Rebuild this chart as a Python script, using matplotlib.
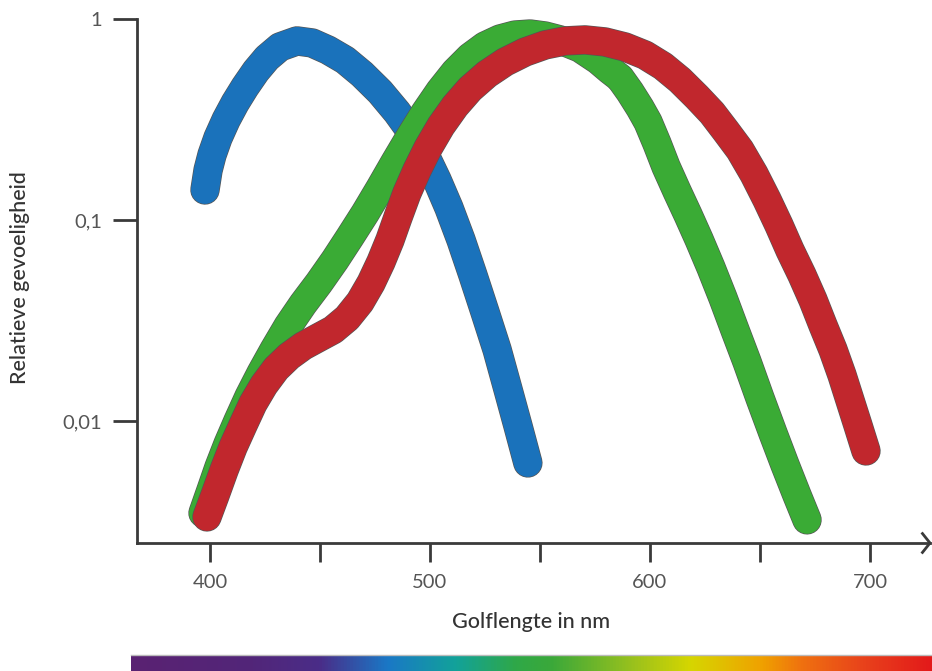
import numpy as np
import matplotlib
matplotlib.use("Agg")
import matplotlib.pyplot as plt
import matplotlib.patheffects as pe
from matplotlib.colors import LinearSegmentedColormap
from matplotlib.ticker import FixedLocator, NullLocator, NullFormatter

plt.rcParams['font.family'] = ['Lato', 'DejaVu Sans']

# ---- data ----
blue_nm = [397.7, 399.1, 400.9, 403.6, 407.3, 411.4, 415.9, 420.9, 425.9, 431.8, 439.5, 446.4, 453.6,
           461.4, 469.1, 477.3, 485.0, 491.8, 497.7, 503.2, 508.6, 514.1, 519.5, 525.0, 530.5, 535.5,
           540.0, 544.5]
blue_val = [0.141, 0.177, 0.211, 0.256, 0.315, 0.382, 0.459, 0.551, 0.640, 0.726, 0.778, 0.760, 0.701,
            0.625, 0.532, 0.434, 0.344, 0.271, 0.211, 0.158, 0.115, 0.0795, 0.0532, 0.0348, 0.0226, 0.0143,
            0.00944, 0.00618]

green_nm = [396.8, 400.5, 404.1, 408.2, 412.7, 417.7, 423.2, 429.1, 435.5, 442.3, 449.5, 456.8, 463.6,
            470.5, 477.3, 484.1, 490.9, 497.7, 504.5, 511.4, 518.2, 525.0, 531.8, 538.6, 545.5, 552.3,
            559.1, 568.2, 576.4, 581.8, 586.4, 590.9, 595.5, 599.1, 603.2, 607.3, 612.3, 617.3, 622.3,
            627.7, 633.2, 638.6, 644.1, 650.0, 655.9, 661.4, 666.8, 671.4]
green_val = [0.00348, 0.00454, 0.0059, 0.00769, 0.0100, 0.0132, 0.0173, 0.0226, 0.0297, 0.0382, 0.0486,
             0.0632, 0.0822, 0.108, 0.144, 0.194, 0.259, 0.341, 0.438, 0.545, 0.647, 0.734, 0.795, 0.832,
             0.842, 0.823, 0.787, 0.717, 0.625, 0.557, 0.509, 0.434, 0.361, 0.307, 0.240, 0.184, 0.139,
             0.106, 0.0800, 0.0580, 0.0409, 0.0284, 0.0197, 0.0130, 0.0087, 0.00604, 0.00428, 0.00322]

red_nm = [398.6, 402.3, 406.4, 410.5, 415.0, 419.5, 424.5, 430.0, 435.9, 442.3, 449.1, 455.9, 462.3,
          468.2, 473.2, 477.7, 481.8, 485.5, 489.5, 494.1, 499.1, 505.0, 511.4, 518.2, 525.9, 534.1,
          543.2, 552.3, 561.4, 570.5, 579.5, 588.6, 597.7, 605.9, 613.6, 621.4, 628.2, 634.5, 640.9,
          647.3, 653.2, 658.6, 663.6, 669.1, 674.1, 678.6, 683.2, 687.3, 690.9, 694.5, 698.2]
red_val = [0.00333, 0.00428, 0.0057, 0.00743, 0.00955, 0.0122, 0.0151, 0.0182, 0.0210, 0.0236, 0.0259,
           0.0284, 0.0325, 0.0391, 0.0486, 0.0618, 0.0795, 0.1035, 0.136, 0.177, 0.228, 0.294, 0.369,
           0.449, 0.532, 0.611, 0.685, 0.743, 0.778, 0.787, 0.769, 0.726, 0.662, 0.583, 0.497, 0.409,
           0.341, 0.277, 0.223, 0.169, 0.126, 0.0944, 0.0709, 0.0532, 0.0400, 0.0300, 0.0226, 0.0169,
           0.0127, 0.00955, 0.00709]

x_major = [400, 500, 600, 700]
x_major_labels = ["400", "500", "600", "700"]
x_minor = [450, 550, 650]
y_ticks = [1, 0.1, 0.01]
y_tick_labels = ["1", "0,1", "0,01"]

spectrum_colors = ["#5a2272", "#522679", "#4a2d88", "#1a78c6", "#12a29a", "#2fa848", "#3aa83a",
                   "#9cc21c", "#d6d600", "#f0a000", "#ef7010", "#e8401c", "#e31a1a"]
spectrum_pos = [0.0, 0.15, 0.235, 0.32, 0.405, 0.48, 0.525, 0.63, 0.70, 0.79, 0.84, 0.92, 1.0]

series = [
    (blue_nm, blue_val, "#1a72bb"),
    (green_nm, green_val, "#3aab35"),
    (red_nm, red_val, "#c1272d"),
]

W, H = 932, 671
fig = plt.figure(figsize=(W / 100, H / 100), dpi=100)

ax_l, ax_r, ax_t, ax_b = 137, 930, 19, 543
ax = fig.add_axes([ax_l / W, 1 - ax_b / H, (ax_r - ax_l) / W, (ax_b - ax_t) / H])

axis_col = "#3a3a3a"
lw_px = 28
for xs, ys, col in series:
    ax.plot(xs, ys, color=col, lw=lw_px * 0.72, solid_capstyle='round', solid_joinstyle='round',
            path_effects=[pe.Stroke(linewidth=lw_px * 0.72 + 1.0, foreground="#555555",
                                    capstyle='round', joinstyle='round'), pe.Normal()],
            zorder=3)

ax.set_yscale('log')
ax.set_xlim(366.8, 727.3)
ax.set_ylim(0.00247, 1.0)

for s in ['top', 'right']:
    ax.spines[s].set_visible(False)
for s in ['left', 'bottom']:
    ax.spines[s].set_color(axis_col)
    ax.spines[s].set_linewidth(2.0)

ax.xaxis.set_major_locator(FixedLocator(x_major))
ax.set_xticklabels(x_major_labels)
ax.xaxis.set_minor_locator(FixedLocator(x_minor))
ax.xaxis.set_minor_formatter(NullFormatter())
ax.yaxis.set_major_locator(FixedLocator(y_ticks))
ax.set_yticklabels(y_tick_labels)
ax.yaxis.set_minor_locator(NullLocator())

ax.tick_params(axis='x', which='both', direction='out', length=14, width=2.0, color=axis_col,
               labelsize=14.5, labelcolor="#555555", pad=8)
ax.tick_params(axis='y', which='both', direction='out', length=17, width=2.0, color=axis_col,
               labelsize=14.5, labelcolor="#555555", pad=8)

# arrow head at end of x axis
ax.plot([0.9905, 1.0, 0.9905], [0.018, 0.0, -0.018], transform=ax.transAxes, color=axis_col,
        lw=2.0, clip_on=False, solid_joinstyle='miter', zorder=4)

fig.text(531 / W, 1 - 622 / H, "Golflengte in nm", ha='center', va='center', fontsize=15.5,
         color="#333333", fontweight='medium')
fig.text(20 / W, 1 - 278 / H, "Relatieve gevoeligheid", ha='center', va='center', fontsize=15.5,
         color="#333333", rotation=90, fontweight='medium')

# spectrum bar
cmap = LinearSegmentedColormap.from_list("spec", list(zip(spectrum_pos, spectrum_colors)))
bx0, bx1, by0, by1 = 131, 932, 655, 671
bax = fig.add_axes([bx0 / W, 1 - by1 / H, (bx1 - bx0) / W, (by1 - by0) / H])
bax.imshow(np.linspace(0, 1, 512)[None, :], aspect='auto', cmap=cmap, extent=[0, 1, 0, 1])
bax.set_axis_off()
bax.plot([0, 1], [1, 1], color="#bbbbbb", lw=1.0, transform=bax.transAxes, clip_on=False)

fig.savefig("out.png", dpi=100)
